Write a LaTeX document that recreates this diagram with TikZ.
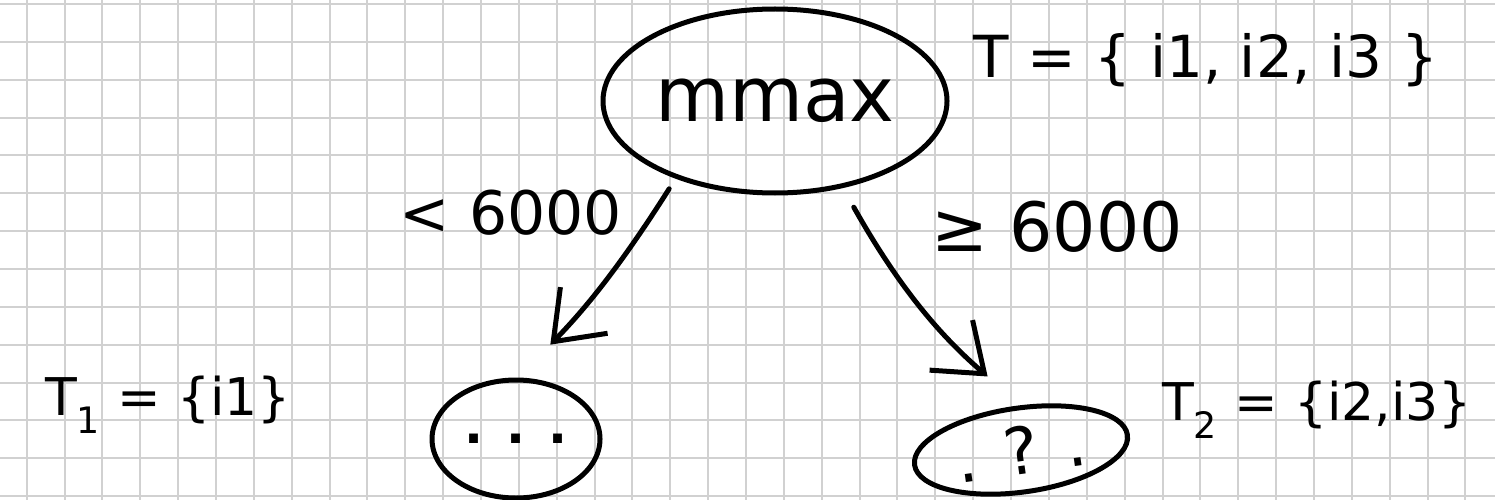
\documentclass[tikz,border=0pt]{standalone}
\usepackage{fontspec}
\setmainfont{DejaVu Sans}
\usetikzlibrary{shapes.geometric,arrows.meta}
\begin{document}
\begin{tikzpicture}[x=1pt,y=-1pt,
  gridline/.style={line width=2pt, black!18},
  blob/.style={ellipse, draw, line width=5pt, inner sep=0pt},
  hand/.style={font=\fontsize{#1pt}{#1pt}\selectfont, inner sep=0pt},
  arr/.style={line width=5pt, line cap=round,
    -{Straight Barb[length=44pt,width=66pt,line width=5pt]}}
]
\useasboundingbox (0,0) rectangle (1495,500);
\fill[white] (0,0) rectangle (1495,500);
\foreach \i in {0,...,38} \draw[gridline] ({26.7+37.86*\i},0) -- ({26.7+37.86*\i},500);
\foreach \j in {0,...,13} \draw[gridline] (0,{4+37.86*\j}) -- (1495,{4+37.86*\j});

\node[blob, minimum width=344pt, minimum height=184pt, hand=76] (root) at (775,101) {mmax};
\node[blob, minimum width=168pt, minimum height=118pt, hand=50] (c1) at (516,439) {\textbf{. . .}};
\node[blob, minimum width=215pt, minimum height=84pt, rotate=8, hand=65] (c2) at (1021,450) {. ? .};

\node[hand=58] (T) at (1206,60) {T = \{ i1, i2, i3 \}};
\node[hand=52] (T1) at (168,405) {T\textsubscript{1} = \{i1\}};
\node[hand=52] (T2) at (1317,410) {T\textsubscript{2} = \{i2,i3\}};

\node[hand=60] (l1) at (511,213) {< 6000};
\node[hand=68] (l2) at (1057,227) {≥ 6000};

\draw[arr, shorten <=12pt, shorten >=46pt] (root.218) to[bend left=6] (c1.88);
\draw[arr, shorten <=22pt, shorten >=44pt] (root.308) to[bend right=10] (c2.82);
\end{tikzpicture}
\end{document}
